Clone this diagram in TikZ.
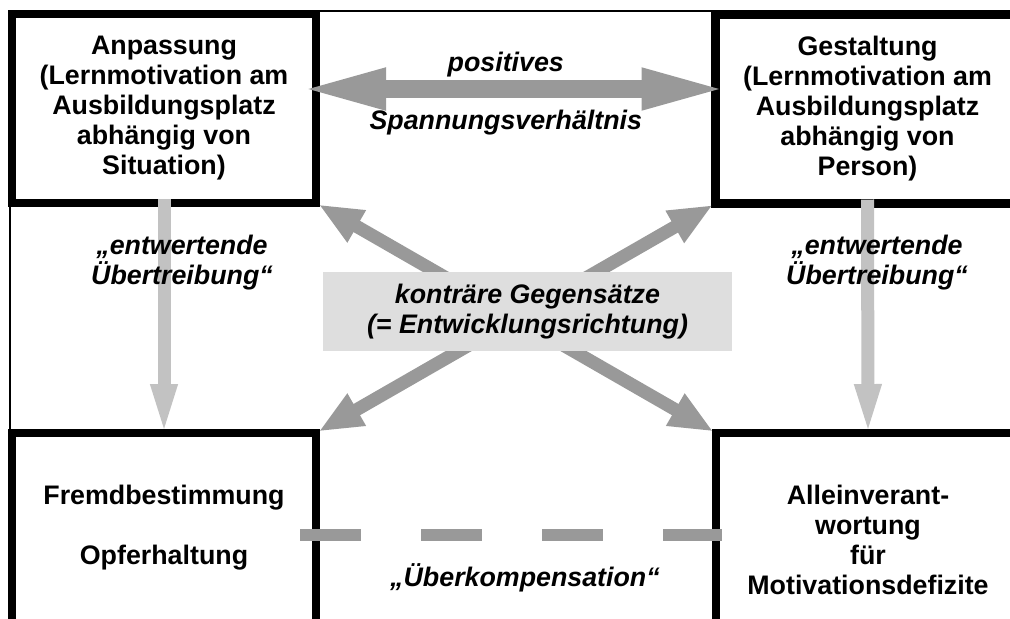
\documentclass[tikz,border=0pt]{standalone}
\usepackage{fontspec}
\setmainfont{Liberation Sans}
\usetikzlibrary{arrows.meta}
\usetikzlibrary{positioning}
\usetikzlibrary{calc}
\definecolor{mgray}{gray}{0.6}
\definecolor{lgray}{gray}{0.76}
\definecolor{bgray}{gray}{0.87}
\newcommand{\boxfont}{\fontsize{13.4}{15}\selectfont\bfseries}
\newcommand{\lblfont}{\fontsize{13.4}{15}\selectfont\bfseries\itshape}
\tikzset{pole/.style = {draw, line width = 4.25pt, inner sep = 0, outer sep = 0,
                        minimum width = 152pt, align = center, font = \boxfont}}
\tikzset{txt/.style = {inner sep = 0, align = center, font = \boxfont}}
\tikzset{lbl/.style = {inner sep = 0, align = center, text = black, font = \lblfont}}
\tikzset{bigarrow/.style = {mgray, line width = 9pt,
                            {Triangle[length = 44pt, width = 18.5pt]}-{Triangle[length = 44pt, width = 18.5pt]}}}
\tikzset{crossarrow/.style = {mgray, line width = 6.5pt, shorten <= 1.5pt, shorten >= 1.5pt,
                              {Triangle[length = 22pt, width = 17pt]}-{Triangle[length = 22pt, width = 17pt]}}}
\tikzset{downarrow/.style = {lgray, line width = 6.5pt, shorten <= -2pt, shorten >= -3pt,
                             -{Triangle[length = 27.5pt, width = 11.5pt]}}}
\tikzset{overline/.style = {mgray, line width = 6pt, dash pattern = on 30.5pt off 30pt}}

\begin{document}
\begin{tikzpicture}[x = 0.5pt, y = -0.5pt]
  \useasboundingbox (0, 0) rectangle (1010, 618);
  \clip (0, 0) rectangle (1010, 618);
  \draw [line width = 0.75pt] (10, 11) rectangle (1040, 660);
  \node [pole, minimum height = 94.5pt] (anp) at (164, 108.5)
    {Anpassung\\(Lernmotivation am\\Ausbildungsplatz\\abhängig von\\Situation)};
  \node [pole, minimum height = 94.5pt] (ges) at (867.5, 109)
    {Gestaltung\\(Lernmotivation am\\Ausbildungsplatz\\abhängig von\\Person)};
  \node [pole, minimum height = 103.5pt] (fremd) at (164, 536.5) {};
  \node [pole, minimum height = 103.5pt] (allein) at (868, 536.5) {};
  \node [txt, below = 26pt of fremd.north] (fremdtxt) {Fremdbestimmung\\[15pt]Opferhaltung};
  \node [txt, below = 26pt of allein.north] (alleintxt) {Alleinverant-\\wortung\\für\\Motivationsdefizite};

  \draw [bigarrow, shorten <= -9pt, shorten >= -7pt] ([yshift = 9.75pt]anp.east) -- ([yshift = 10pt]ges.west)
    node [lbl, midway, above = 1.5pt, xshift = -5pt] (pos) {positives}
    node [lbl, midway, below = 6pt, xshift = -5pt] (span) {Spannungsverhältnis};

  \draw [crossarrow] (anp.south east) -- (allein.north west);
  \draw [crossarrow] (ges.south west) -- (fremd.north east);
  \node [lbl, fill = bgray, minimum width = 204.5pt, minimum height = 39.5pt] (gegen) at (527.5, 311.5)
    {konträre Gegensätze\\(= Entwicklungsrichtung)};

  \foreach \top/\bot in {anp/fremd, ges/allein}
    \draw [downarrow] (\top.south) -- (\bot.north);
  \node [lbl] (entwl) at (182, 263) {„entwertende\\Übertreibung“};
  \node [lbl] (entwr) at (877, 263) {„entwertende\\Übertreibung“};

  \draw [overline] ($(fremd.north east) + (-16, 102)$) -- ($(allein.north west) + (6, 102)$);
  \node [lbl] (ueber) at (525, 578) {„Überkompensation“};
\end{tikzpicture}
\end{document}
